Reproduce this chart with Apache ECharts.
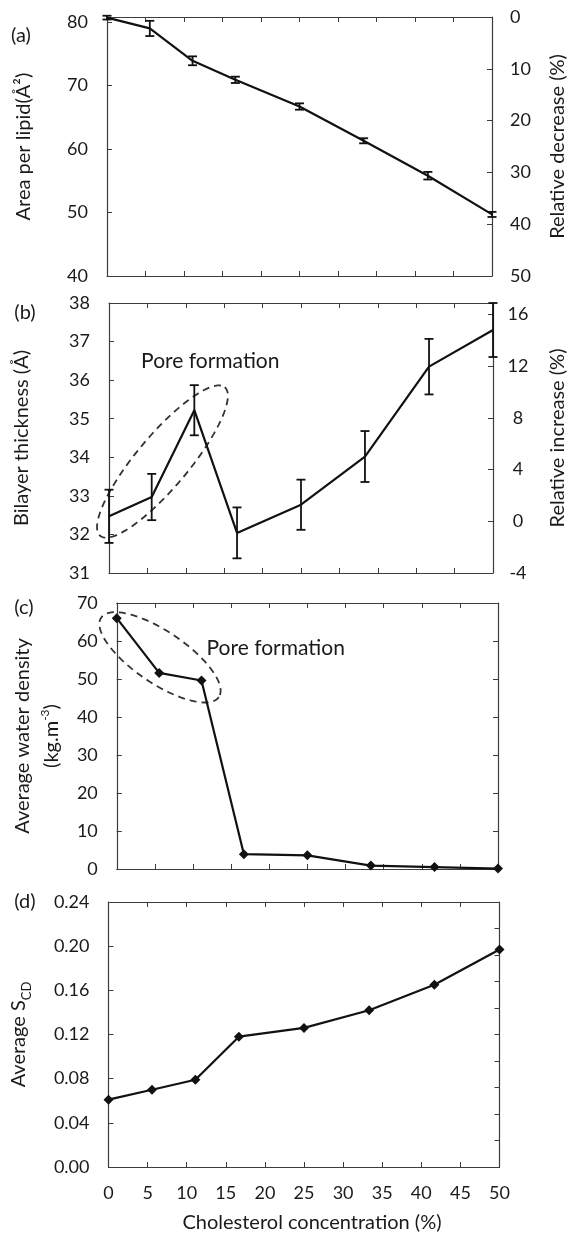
<!DOCTYPE html>
<html>
<head>
<meta charset="utf-8">
<script src="https://cdn.jsdelivr.net/npm/echarts@6/dist/echarts.min.js"></script>
<style>html,body{margin:0;padding:0;background:#fff;}</style>
</head>
<body>
<div id="main" style="width:576px;height:1234px;"></div>
<script type="text/javascript">
// cholesterol concentration (%)
var conc = [0, 5.56, 11.11, 16.67, 25, 33.33, 41.67, 50];
// (a) area per lipid
var area = [80.7, 79.0, 73.9, 70.9, 66.7, 61.3, 55.8, 49.7];
var areaErr = [0.3, 1.2, 0.7, 0.5, 0.5, 0.4, 0.6, 0.4];
// (b) bilayer thickness
var thick = [32.47, 32.97, 35.22, 32.04, 32.77, 34.02, 36.35, 37.3];
var thickErr = [0.69, 0.6, 0.65, 0.66, 0.65, 0.66, 0.72, 0.7];
// (c) water density
var water = [66.0, 51.6, 49.6, 3.9, 3.6, 0.9, 0.5, 0.1];
// (d) order parameter
var scd = [0.061, 0.070, 0.079, 0.118, 0.126, 0.142, 0.165, 0.197];

var panelNames = ['(a)', '(b)', '(c)', '(d)'];

var FONT = 'Lato';
var txtC = '#1a1a1a';
var axC = '#3c3c3c';

var chart = echarts.init(document.getElementById('main'));

var grids = [
    {left: 107, top: 17, width: 390, height: 259},
    {left: 109, top: 303, width: 388, height: 270},
    {left: 110, top: 603, width: 388, height: 266},
    {left: 108.5, top: 902, width: 391, height: 267}
];

function xAx(g, pos) {
    var last = (g == 3 && pos == 'bottom');
    return {
        type: 'value', gridIndex: g, position: pos, min: 0, max: 50, interval: 5,
        axisLine: {show: true, onZero: false, lineStyle: {color: axC, width: 1.2}},
        axisTick: {show: true, inside: true, length: 5, lineStyle: {color: axC}},
        axisLabel: {show: last, margin: 17, fontFamily: FONT, fontSize: 18, color: txtC},
        splitLine: {show: false},
        name: last ? 'Cholesterol concentration (%)' : '',
        nameLocation: 'middle', nameGap: 46,
        nameTextStyle: {fontFamily: FONT, fontSize: 20, color: txtC, padding: [0, 0, 0, 16]}
    };
}

function yAx(g, pos, o) {
    var a = {
        type: 'value', gridIndex: g, position: pos,
        axisLine: {show: true, onZero: false, lineStyle: {color: axC, width: 1.2}},
        axisTick: {show: true, inside: true, length: 5, lineStyle: {color: axC}},
        axisLabel: {show: true, margin: 19, fontFamily: FONT, fontSize: 18, color: txtC},
        splitLine: {show: false},
        nameLocation: 'middle', nameRotate: 90,
        nameTextStyle: {fontFamily: FONT, fontSize: 20, color: txtC}
    };
    for (var k in o) {
        if (k == 'axisLabel') { for (var j in o[k]) a.axisLabel[j] = o[k][j]; }
        else a[k] = o[k];
    }
    return a;
}

var xAxes = [];
for (var g = 0; g < 4; g++) { xAxes.push(xAx(g, 'bottom')); xAxes.push(xAx(g, 'top')); }

var yAxes = [
    yAx(0, 'left', {min: 40, max: 80.8, interval: 10, axisLabel: {showMaxLabel: false},
        name: 'Area per lipid(Å²)', nameGap: 73}),
    yAx(0, 'right', {min: 0, max: 50, interval: 10, inverse: true, axisLabel: {margin: 18},
        name: 'Relative decrease (%)', nameGap: 56}),
    yAx(1, 'left', {min: 31, max: 38, interval: 1, name: 'Bilayer thickness (Å)', nameGap: 77}),
    yAx(1, 'right', {min: -4, max: 16.9, interval: 4, axisLabel: {showMaxLabel: false, align: 'center', margin: 25},
        name: 'Relative increase (%)', nameGap: 55}),
    yAx(2, 'left', {min: 0, max: 70, interval: 10,
        name: 'Average water density\n(kg.m{sup|-3})', nameGap: 46,
        nameTextStyle: {fontFamily: FONT, fontSize: 20, color: txtC, lineHeight: 29,
            rich: {sup: {fontFamily: FONT, fontSize: 12, verticalAlign: 'top', lineHeight: 12, padding: [2, 0, 0, 0]}}}}),
    yAx(2, 'right', {min: 0, max: 70, interval: 10, axisLabel: {show: false}}),
    yAx(3, 'left', {min: 0, max: 0.24, interval: 0.04,
        axisLabel: {formatter: function (v) { return v.toFixed(2); }},
        name: '{b|Average S}{sub|CD}', nameGap: 76,
        nameTextStyle: {fontFamily: FONT, fontSize: 20, color: txtC,
            rich: {
                b: {fontFamily: FONT, fontSize: 20, color: txtC, lineHeight: 24, verticalAlign: 'top'},
                sub: {fontFamily: FONT, fontSize: 13, color: txtC, lineHeight: 13, verticalAlign: 'top', padding: [12, 0, 0, 0]}
            }}}),
    yAx(3, 'right', {min: 0, max: 0.24, interval: 0.024, axisLabel: {show: false}})
];

function pairs(ys, es) {
    return conc.map(function (c, i) { return es ? [c, ys[i], es[i]] : [c, ys[i]]; });
}

function errItem(params, api) {
    var x = api.value(0), y = api.value(1), e = api.value(2);
    var hi = api.coord([x, y + e]), lo = api.coord([x, y - e]);
    var c = 4.5;
    var st = {stroke: '#111', lineWidth: 1.8};
    return {type: 'group', children: [
        {type: 'line', shape: {x1: hi[0], y1: hi[1], x2: lo[0], y2: lo[1]}, style: st},
        {type: 'line', shape: {x1: hi[0] - c, y1: hi[1], x2: hi[0] + c, y2: hi[1]}, style: st},
        {type: 'line', shape: {x1: lo[0] - c, y1: lo[1], x2: lo[0] + c, y2: lo[1]}, style: st}
    ]};
}

// dashed "pore formation" rings, centre and label anchored in data units
var poreB = {at: [6.96, 33.89], rx: 97, ry: 26, rot: -50, label: [4.18, 36.49]};
var poreC = {at: [5.67, 55.7], rx: 71, ry: 26, rot: 34, label: [11.77, 58.0]};

function poreItem(cfg) {
    return function (params, api) {
        var c = api.coord(cfg.at), t = api.coord(cfg.label);
        var th = cfg.rot * Math.PI / 180, pts = [];
        for (var k = 0; k < 96; k++) {
            var a = k / 96 * 2 * Math.PI;
            var ex = cfg.rx * Math.cos(a), ey = cfg.ry * Math.sin(a);
            pts.push([c[0] + ex * Math.cos(th) - ey * Math.sin(th), c[1] + ex * Math.sin(th) + ey * Math.cos(th)]);
        }
        return {type: 'group', children: [
            {type: 'polygon', shape: {points: pts}, style: {fill: 'none', stroke: '#333', lineWidth: 1.8, lineDash: [7, 5]}},
            {type: 'text', x: t[0], y: t[1], style: {text: 'Pore formation', fill: txtC, font: '21px ' + FONT, align: 'left', verticalAlign: 'middle'}}
        ]};
    };
}

function lineS(xi, data, sym) {
    return {
        type: 'line', xAxisIndex: xi, yAxisIndex: xi, data: data,
        symbol: sym ? 'diamond' : 'none', symbolSize: 10, showSymbol: !!sym,
        lineStyle: {color: '#111', width: 2.2}, itemStyle: {color: '#111'},
        z: 4, clip: false, animation: false
    };
}

var series = [
    lineS(0, pairs(area), false),
    {type: 'custom', xAxisIndex: 0, yAxisIndex: 0, renderItem: errItem, data: pairs(area, areaErr), encode: {x: 0, y: 1}, clip: false, z: 3},
    lineS(2, pairs(thick), false),
    {type: 'custom', xAxisIndex: 2, yAxisIndex: 2, renderItem: errItem, data: pairs(thick, thickErr), encode: {x: 0, y: 1}, clip: false, z: 3},
    {type: 'custom', xAxisIndex: 2, yAxisIndex: 2, renderItem: poreItem(poreB), data: [poreB.at], encode: {x: 0, y: 1}, clip: false, z: 2},
    lineS(4, pairs(water), true),
    {type: 'custom', xAxisIndex: 4, yAxisIndex: 4, renderItem: poreItem(poreC), data: [poreC.at], encode: {x: 0, y: 1}, clip: false, z: 2},
    lineS(6, pairs(scd), true)
];

var labelPos = [[21, 36], [25, 313], [24, 608], [25, 902]];
var graphic = panelNames.map(function (t, i) {
    return {type: 'text', x: labelPos[i][0], y: labelPos[i][1],
        style: {text: t, font: '20px ' + FONT, fill: txtC, align: 'center', verticalAlign: 'middle'}};
});

chart.setOption({
    backgroundColor: '#fff',
    animation: false,
    grid: grids,
    xAxis: xAxes,
    yAxis: yAxes,
    series: series,
    graphic: graphic
});
</script>
</body>
</html>
